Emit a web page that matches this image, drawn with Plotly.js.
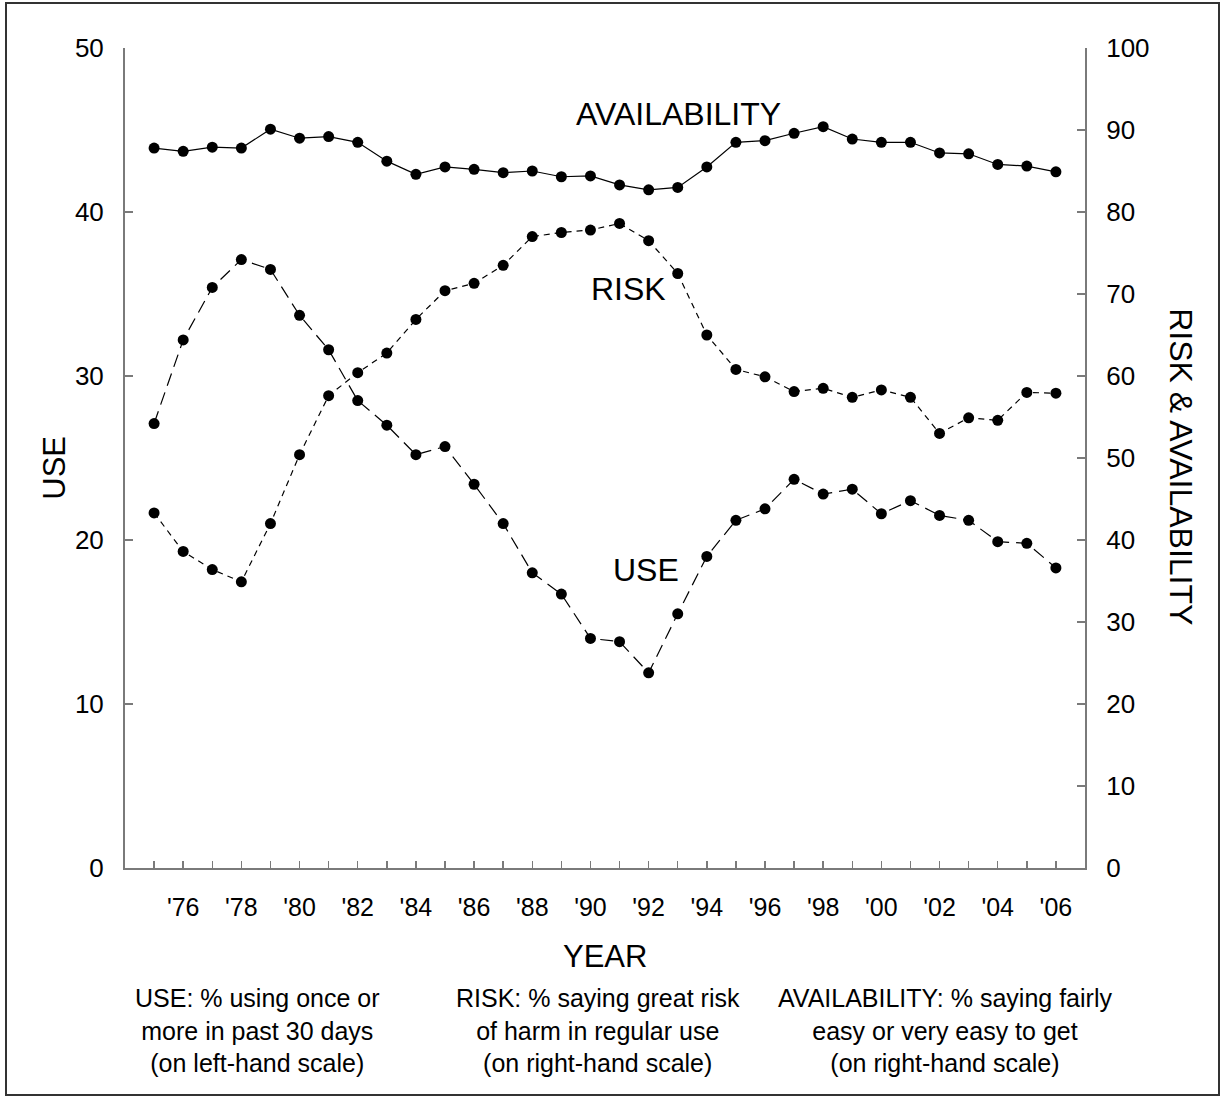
<!DOCTYPE html>
<html>
<head>
<meta charset="utf-8">
<script src="https://cdn.plot.ly/plotly-3.0.1.min.js"></script>
<style>
  html, body { margin: 0; padding: 0; background: #fff; }
  #chart { width: 1223px; height: 1103px; }
</style>
</head>
<body>
<div id="chart"></div>
<script>
// Years of the survey
const years = [1975,1976,1977,1978,1979,1980,1981,1982,1983,1984,1985,1986,1987,1988,1989,1990,
               1991,1992,1993,1994,1995,1996,1997,1998,1999,2000,2001,2002,2003,2004,2005,2006];

// USE: % using once or more in past 30 days (left-hand scale)
const useValues = [27.1,32.2,35.4,37.1,36.5,33.7,31.6,28.5,27.0,25.2,25.7,23.4,21.0,18.0,16.7,14.0,
                   13.8,11.9,15.5,19.0,21.2,21.9,23.7,22.8,23.1,21.6,22.4,21.5,21.2,19.9,19.8,18.3];

// RISK: % saying great risk of harm in regular use (right-hand scale)
const riskValues = [43.3,38.6,36.4,34.9,42.0,50.4,57.6,60.4,62.8,66.9,70.4,71.3,73.5,77.0,77.5,77.8,
                    78.6,76.5,72.5,65.0,60.8,59.9,58.1,58.5,57.4,58.3,57.4,53.0,54.9,54.6,58.0,57.9];

// AVAILABILITY: % saying fairly easy or very easy to get (right-hand scale)
const availValues = [87.8,87.4,87.9,87.8,90.1,89.0,89.2,88.5,86.2,84.6,85.5,85.2,84.8,85.0,84.3,84.4,
                     83.3,82.7,83.0,85.5,88.5,88.7,89.6,90.4,88.9,88.5,88.5,87.2,87.1,85.8,85.6,84.9];

// X tick labels (ticks every year, labels on even years)
const xTickLabels = ["","'76","","'78","","'80","","'82","","'84","","'86","","'88","","'90",
                     "","'92","","'94","","'96","","'98","","'00","","'02","","'04","","'06"];

const FONT = "Liberation Sans, Arial, Helvetica, sans-serif";
const AXIS_COLOR = "#7a7a7a";

const traces = [
  {
    x: years, y: availValues, yaxis: "y2", type: "scatter", mode: "lines+markers",
    line: { color: "#000", width: 1.2 },
    marker: { color: "#000", size: 11 },
    hoverinfo: "skip"
  },
  {
    x: years, y: riskValues, yaxis: "y2", type: "scatter", mode: "lines+markers",
    line: { color: "#000", width: 1.2, dash: "6px,5px" },
    marker: { color: "#000", size: 11 },
    hoverinfo: "skip"
  },
  {
    x: years, y: useValues, yaxis: "y", type: "scatter", mode: "lines+markers",
    line: { color: "#000", width: 1.2, dash: "13px,7px" },
    marker: { color: "#000", size: 11 },
    hoverinfo: "skip"
  }
];

const layout = {
  width: 1223, height: 1103,
  margin: { l: 125, r: 138, t: 48, b: 235 },
  paper_bgcolor: "#fff", plot_bgcolor: "#fff",
  showlegend: false,
  font: { family: FONT, color: "#000" },
  xaxis: {
    range: [1974, 2007],
    tickvals: years, ticktext: xTickLabels,
    ticks: "inside", ticklen: 7, tickwidth: 1.5, tickcolor: AXIS_COLOR,
    showline: true, linecolor: AXIS_COLOR, linewidth: 2,
    showgrid: false, zeroline: false,
    tickfont: { family: FONT, size: 25, color: "#000" },
    ticklabelstandoff: 16
  },
  yaxis: {
    range: [0, 50], dtick: 10, tick0: 0,
    ticks: "inside", ticklen: 8, tickwidth: 1.5, tickcolor: AXIS_COLOR,
    showline: true, linecolor: AXIS_COLOR, linewidth: 2,
    showgrid: false, zeroline: false,
    tickfont: { family: FONT, size: 26, color: "#000" },
    ticklabelstandoff: 14
  },
  yaxis2: {
    range: [0, 100], dtick: 10, tick0: 0,
    overlaying: "y", side: "right",
    ticks: "inside", ticklen: 8, tickwidth: 1.5, tickcolor: AXIS_COLOR,
    showline: true, linecolor: AXIS_COLOR, linewidth: 2,
    showgrid: false, zeroline: false,
    tickfont: { family: FONT, size: 26, color: "#000" },
    ticklabelstandoff: 14
  },
  annotations: [
    { text: "AVAILABILITY", xref: "x", yref: "y", x: 1993.04, y: 46.0, showarrow: false,
      font: { family: FONT, size: 32 }, xanchor: "center", yanchor: "middle" },
    { text: "RISK", xref: "x", yref: "y", x: 1991.3, y: 35.3, showarrow: false,
      font: { family: FONT, size: 32 }, xanchor: "center", yanchor: "middle" },
    { text: "USE", xref: "x", yref: "y", x: 1991.9, y: 18.2, showarrow: false,
      font: { family: FONT, size: 32 }, xanchor: "center", yanchor: "middle" },
    { text: "USE", xref: "paper", yref: "paper", x: -0.073, y: 0.488, showarrow: false,
      textangle: -90, font: { family: FONT, size: 31 }, xanchor: "center", yanchor: "middle" },
    { text: "RISK &amp; AVAILABILITY", xref: "paper", yref: "paper", x: 1.1, y: 0.49, showarrow: false,
      textangle: 90, font: { family: FONT, size: 32 }, xanchor: "center", yanchor: "middle" },
    { text: "YEAR", xref: "paper", yref: "paper", x: 0.5, y: -0.1085, showarrow: false,
      font: { family: FONT, size: 31 }, xanchor: "center", yanchor: "middle" },
    { text: "USE: % using once or<br>more in past 30 days<br>(on left-hand scale)",
      xref: "paper", yref: "paper", x: 0.1385, y: -0.1976, showarrow: false,
      font: { family: FONT, size: 25 }, xanchor: "center", yanchor: "middle", align: "center" },
    { text: "RISK: % saying great risk<br>of harm in regular use<br>(on right-hand scale)",
      xref: "paper", yref: "paper", x: 0.4927, y: -0.1976, showarrow: false,
      font: { family: FONT, size: 25 }, xanchor: "center", yanchor: "middle", align: "center" },
    { text: "AVAILABILITY: % saying fairly<br>easy or very easy to get<br>(on right-hand scale)",
      xref: "paper", yref: "paper", x: 0.854, y: -0.1976, showarrow: false,
      font: { family: FONT, size: 25 }, xanchor: "center", yanchor: "middle", align: "center" }
  ],
  shapes: [
    { type: "rect", xref: "paper", yref: "paper",
      x0: (6 - 125) / 960, x1: (1219 - 125) / 960,
      y0: (868 - 1095) / 820, y1: (868 - 3) / 820,
      line: { color: "#333", width: 2 }, fillcolor: "rgba(0,0,0,0)", layer: "below" }
  ]
};

Plotly.newPlot("chart", traces, layout, { displayModeBar: false, staticPlot: true });
</script>
</body>
</html>
